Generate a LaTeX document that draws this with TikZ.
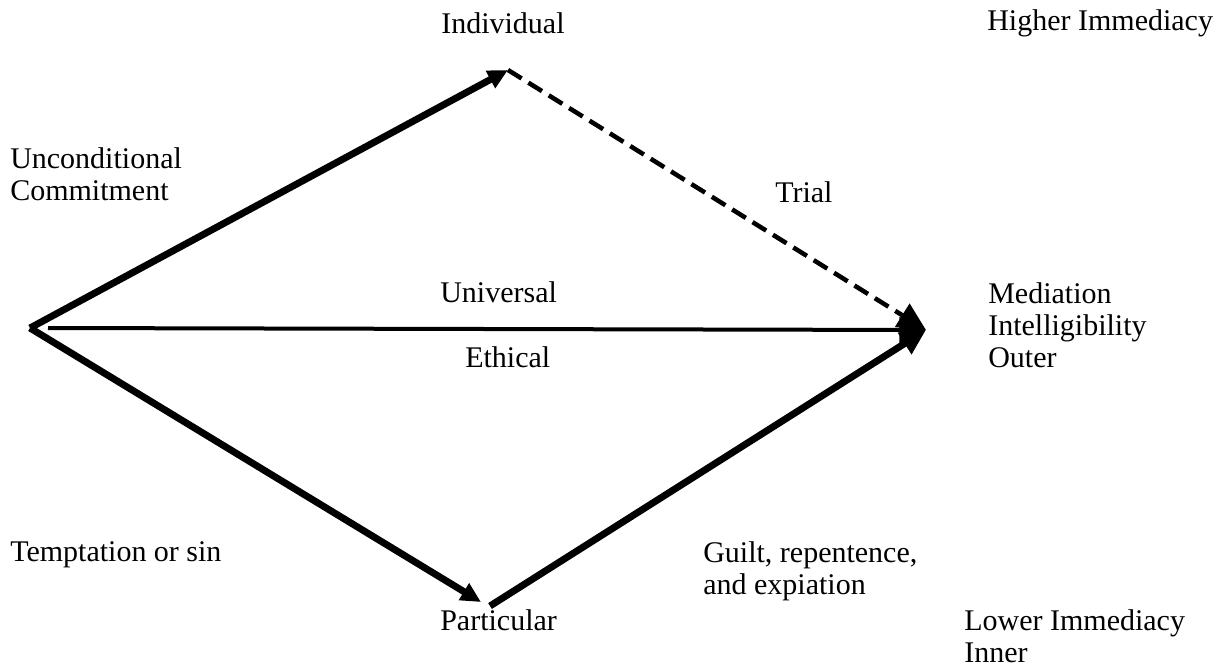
\documentclass[tikz,border=0pt]{standalone}
\usepackage{fontspec}
\setmainfont{Liberation Serif}
\usetikzlibrary{arrows.meta}
\begin{document}
\begin{tikzpicture}[x=0.75pt,y=-0.75pt,
  lbl/.style={anchor=west,inner sep=0pt,font=\fontsize{22.5}{24}\selectfont,align=left},
  thick edge/.style={line width=5.2pt,-{Triangle[length=15pt,width=14pt]}},
  end edge/.style={line width=5.2pt,-{Triangle[length=19pt,width=18pt]}},
  mid edge/.style={line width=3pt,-{Triangle[length=20pt,width=19pt]}},
  dash edge/.style={line width=3.4pt,dash pattern=on 12pt off 6pt,-{Triangle[length=21pt,width=20pt]}}]
\useasboundingbox (0,0) rectangle (1227,668);
\coordinate (L) at (30,328);
\coordinate (L2) at (48,328);
\coordinate (T) at (508,70);
\coordinate (R) at (926,330);
\coordinate (B) at (481,602);
\coordinate (B2) at (490,606);
\draw[thick edge] (L) -- (T);
\draw[dash edge] (T) -- (R);
\draw[mid edge] (L2) -- (R);
\draw[thick edge] (L) -- (B);
\draw[end edge] (B2) -- (R);
\node[lbl] (ind) at (441,23) {Individual};
\node[lbl] (hi) at (987,23) {Higher Immediacy};
\node[lbl] (uc) at (10,174) {Unconditional\\Commitment};
\node[lbl] (tr) at (775,192) {Trial};
\node[lbl] (un) at (440,292) {Universal};
\node[lbl] (med) at (988,325) {Mediation\\Intelligibility\\Outer};
\node[lbl] (eth) at (465,357) {Ethical};
\node[lbl] (ts) at (10,555) {Temptation or sin};
\node[lbl] (gu) at (703,571) {Guilt, repentence,\\and expiation};
\node[lbl] (pa) at (440,620) {Particular};
\node[lbl] (lo) at (964,636) {Lower Immediacy\\Inner};
\end{tikzpicture}
\end{document}
